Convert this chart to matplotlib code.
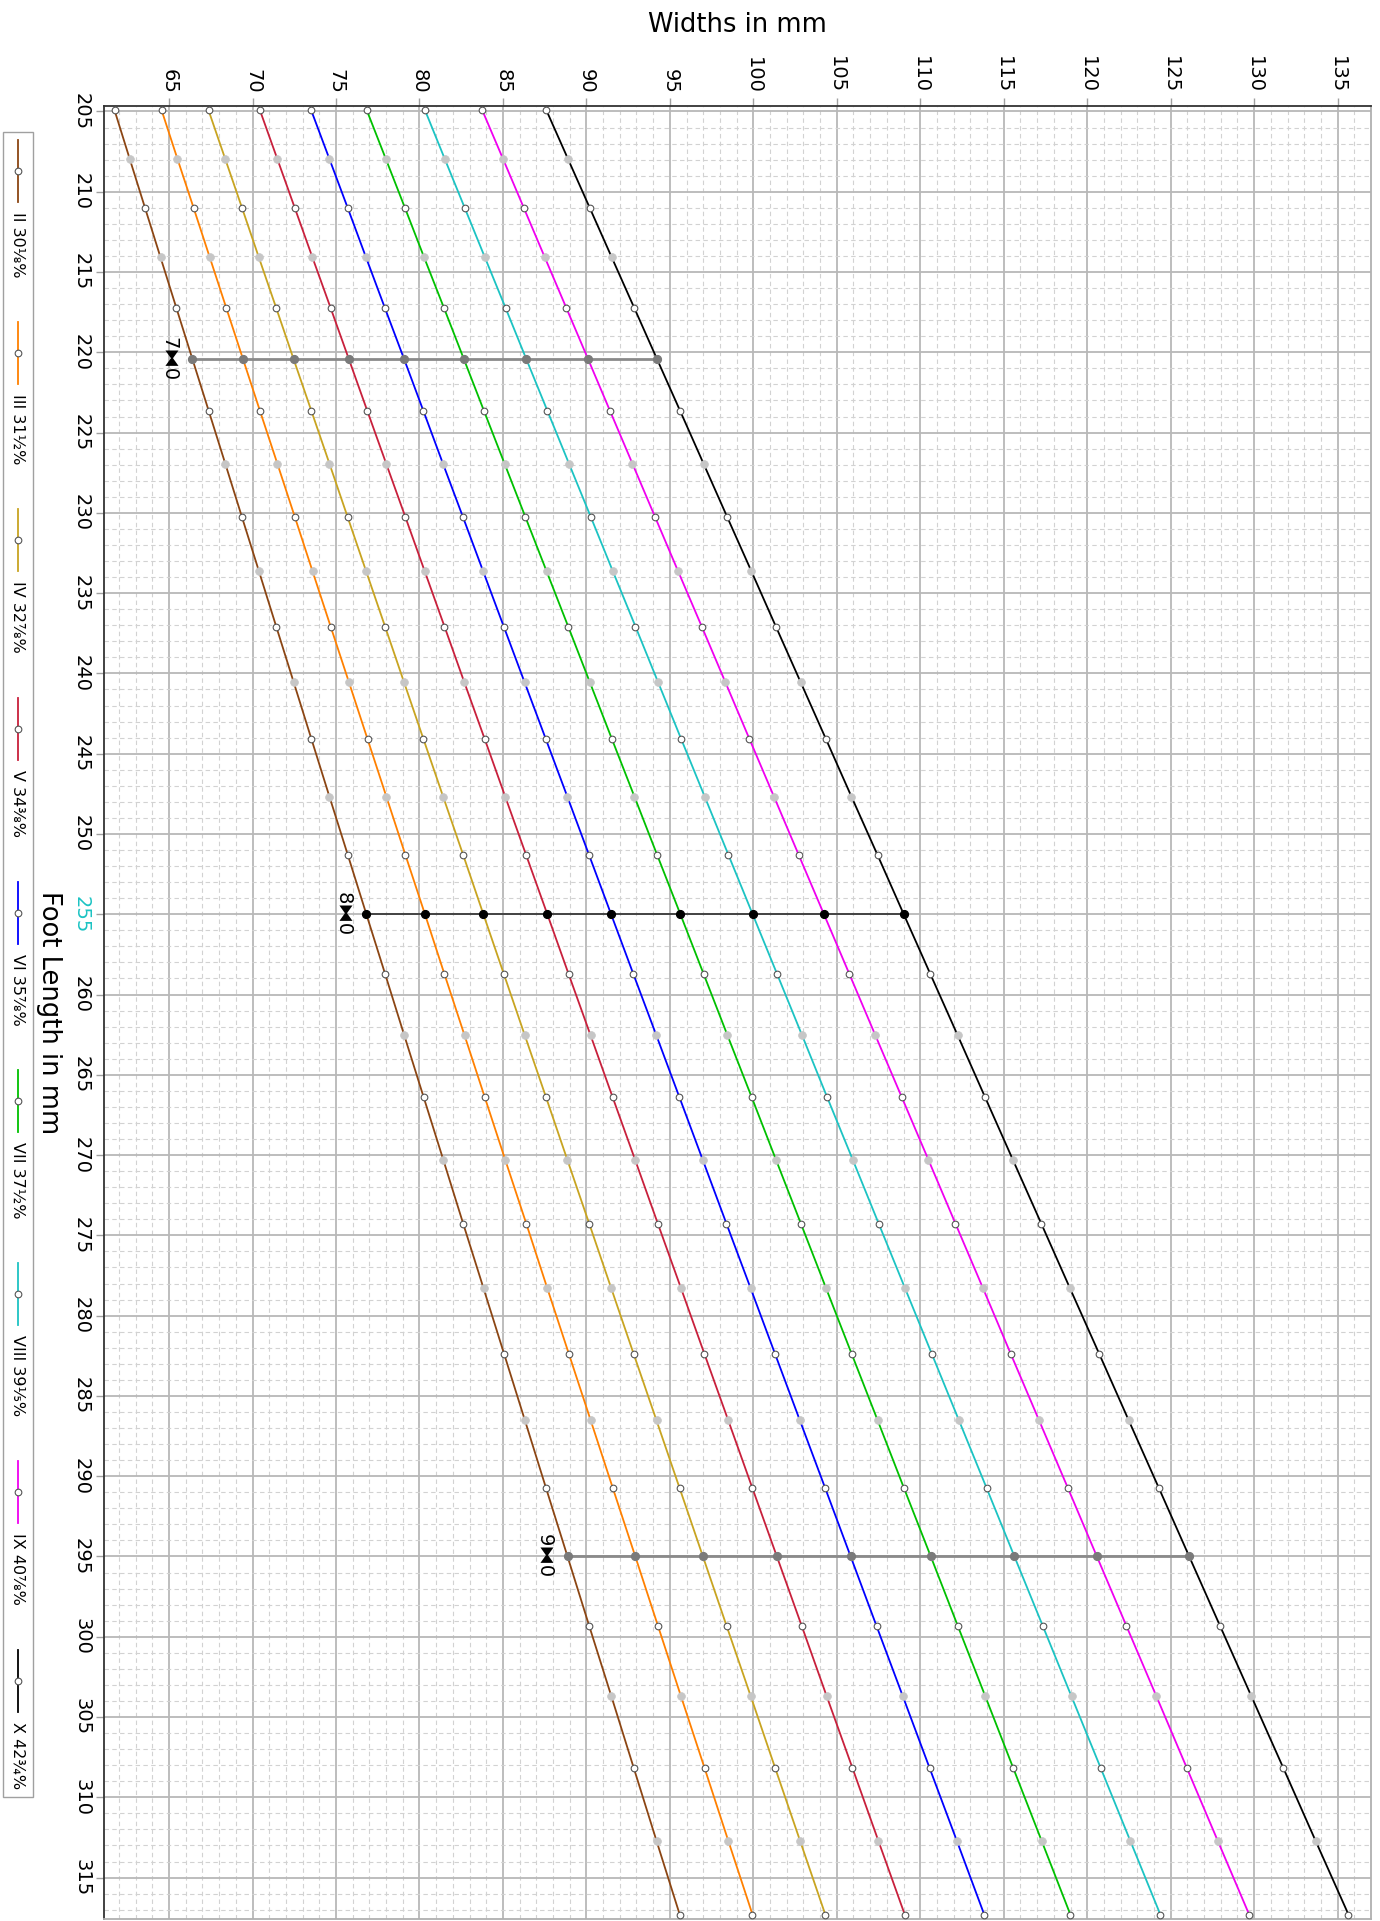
import matplotlib
matplotlib.use("Agg")
import matplotlib.pyplot as plt
from matplotlib.ticker import MultipleLocator
from matplotlib.lines import Line2D
from matplotlib.patches import Rectangle

# ---------------- data ----------------
foot_length = [204.94, 207.94, 211.00, 214.09, 217.24, 220.42, 223.66, 226.94, 230.27, 233.65,
               237.08, 240.56, 244.09, 247.68, 251.31, 255.00, 258.74, 262.54, 266.39, 270.30,
               274.27, 278.30, 282.38, 286.53, 290.73, 295.00, 299.33, 303.72, 308.18, 312.71,
               317.30]

width_II = [61.74, 62.64, 63.56, 64.49, 65.44, 66.40, 67.38, 68.37, 69.37, 70.39,
            71.42, 72.47, 73.53, 74.61, 75.71, 76.82, 77.95, 79.09, 80.25, 81.43,
            82.62, 83.84, 85.07, 86.32, 87.58, 88.87, 90.17, 91.50, 92.84, 94.20, 95.59]
width_III = [64.56, 65.50, 66.47, 67.44, 68.43, 69.43, 70.45, 71.49, 72.54, 73.60,
             74.68, 75.78, 76.89, 78.02, 79.16, 80.33, 81.50, 82.70, 83.91, 85.14,
             86.40, 87.66, 88.95, 90.26, 91.58, 92.93, 94.29, 95.67, 97.08, 98.50, 99.95]
width_IV = [67.37, 68.36, 69.37, 70.38, 71.42, 72.46, 73.53, 74.61, 75.70, 76.81,
            77.94, 79.08, 80.24, 81.42, 82.62, 83.83, 85.06, 86.31, 87.58, 88.86,
            90.17, 91.49, 92.83, 94.20, 95.58, 96.98, 98.40, 99.85, 101.31, 102.80, 104.31]
width_V = [70.45, 71.48, 72.53, 73.59, 74.68, 75.77, 76.88, 78.01, 79.16, 80.32,
           81.50, 82.69, 83.91, 85.14, 86.39, 87.66, 88.94, 90.25, 91.57, 92.92,
           94.28, 95.67, 97.07, 98.50, 99.94, 101.41, 102.90, 104.40, 105.94, 107.49, 109.07]
width_VI = [73.52, 74.60, 75.70, 76.80, 77.93, 79.08, 80.24, 81.41, 82.61, 83.82,
            85.05, 86.30, 87.57, 88.86, 90.16, 91.48, 92.82, 94.19, 95.57, 96.97,
            98.39, 99.84, 101.30, 102.79, 104.30, 105.83, 107.38, 108.96, 110.56, 112.19, 113.83]
width_VII = [76.85, 77.98, 79.13, 80.28, 81.47, 82.66, 83.87, 85.10, 86.35, 87.62,
             88.91, 90.21, 91.53, 92.88, 94.24, 95.63, 97.03, 98.45, 99.90, 101.36,
             102.85, 104.36, 105.89, 107.45, 109.02, 110.63, 112.25, 113.90, 115.57, 117.27, 118.99]
width_VIII = [80.34, 81.51, 82.71, 83.92, 85.16, 86.40, 87.67, 88.96, 90.27, 91.59,
              92.94, 94.30, 95.68, 97.09, 98.51, 99.96, 101.43, 102.92, 104.42, 105.96,
              107.51, 109.09, 110.69, 112.32, 113.97, 115.64, 117.34, 119.06, 120.81, 122.58, 124.38]
width_IX = [83.77, 85.00, 86.25, 87.51, 88.80, 90.10, 91.42, 92.76, 94.12, 95.50,
            96.91, 98.33, 99.77, 101.24, 102.72, 104.23, 105.76, 107.31, 108.89, 110.49,
            112.11, 113.76, 115.42, 117.12, 118.84, 120.58, 122.35, 124.15, 125.97, 127.82, 129.70]
width_X = [87.61, 88.89, 90.20, 91.52, 92.87, 94.23, 95.62, 97.02, 98.44, 99.89,
           101.35, 102.84, 104.35, 105.88, 107.44, 109.01, 110.61, 112.24, 113.88, 115.55,
           117.25, 118.97, 120.72, 122.49, 124.29, 126.11, 127.96, 129.84, 131.75, 133.68, 135.65]

series_names = ["II 30⅛%", "III 31½%", "IV 32⅞%", "V 34⅜%", "VI 35⅞%",
                "VII 37½%", "VIII 39⅕%", "IX 40⅞%", "X 42¾%"]
series_colors = ["#8b4513", "#ff8000", "#c8a421", "#c8203c", "#0000ff",
                 "#00c000", "#1cc3c3", "#f000f0", "#000000"]

size_labels = ["7⧓0", "8⧓0", "9⧓0"]
size_foot_length = [220.42, 255.00, 295.00]

width_ticks = [65, 70, 75, 80, 85, 90, 95, 100, 105, 110, 115, 120, 125, 130, 135]
foot_ticks = [205, 210, 215, 220, 225, 230, 235, 240, 245, 250, 255, 260, 265,
              270, 275, 280, 285, 290, 295, 300, 305, 310, 315]
highlight_tick = 255

widths = [width_II, width_III, width_IV, width_V, width_VI,
          width_VII, width_VIII, width_IX, width_X]

# ---------------- figure ----------------
W, H = 1380, 1921
fig = plt.figure(figsize=(W / 100, H / 100), dpi=100)
fig.patch.set_facecolor("white")

ax_l, ax_r, ax_t, ax_b = 103.6, 1371.0, 106.0, 1919.0
ax = fig.add_axes([ax_l / W, 1 - ax_b / H, (ax_r - ax_l) / W, (ax_b - ax_t) / H])
ax.set_xlim(61.08, 137.0)
ax.set_ylim(317.58, 204.66)

ax.set_axisbelow(True)
ax.xaxis.set_minor_locator(MultipleLocator(1))
ax.yaxis.set_minor_locator(MultipleLocator(1))
ax.grid(which="major", color="#b8b8b8", lw=1.3, ls="-")
ax.grid(which="minor", color="#d2d2d2", lw=0.8, ls=(0, (4, 3)))

# series
for w, c in zip(widths, series_colors):
    ax.plot(w, foot_length, color=c, lw=1.3, zorder=3, solid_capstyle="butt")
    ax.plot(w[1::2], foot_length[1::2], ls="none", marker="o", ms=5.6,
            mfc="#c6c6c6", mec="#c6c6c6", mew=0.5, zorder=4)
    ax.plot(w[0::2], foot_length[0::2], ls="none", marker="o", ms=4.8,
            mfc="white", mec="#555555", mew=0.8, zorder=4)

# size rows
size_styles = [("#8a8a8a", 2.0, "#7a7a7a"), ("#3a3a3a", 1.3, "#000000"), ("#8a8a8a", 2.0, "#7a7a7a")]
for lab, fl, (lc, lw, mc) in zip(size_labels, size_foot_length, size_styles):
    i = foot_length.index(fl)
    xs = [w[i] for w in widths]
    ys = [foot_length[i]] * len(xs)
    ax.plot(xs, ys, color=lc, lw=lw, marker="o", ms=5.6, mfc=mc, mec=mc, zorder=5)
    ax.annotate(lab, (xs[0], ys[0]), xytext=(-13, 0), textcoords="offset pixels",
                rotation=270, ha="right", va="center", fontsize=14,
                family=["DejaVu Sans", "Noto Sans", "Noto Sans CJK SC"], zorder=6)

# ticks
ax.xaxis.tick_top()
ax.set_xticks(width_ticks)
ax.set_xticklabels([str(t) for t in width_ticks], rotation=270)
ax.set_yticks(foot_ticks)
ax.set_yticklabels([str(t) for t in foot_ticks], rotation=270, va="center")
ax.tick_params(which="major", length=6, width=1, color="#a0a0a0", labelsize=14, pad=3)
ax.tick_params(which="minor", length=0)
for lbl in ax.get_yticklabels():
    if lbl.get_text() == str(highlight_tick):
        lbl.set_color("#1cc3c3")

for side, col in (("top", "#333333"), ("left", "#333333"), ("right", "#b0b0b0"), ("bottom", "#b0b0b0")):
    ax.spines[side].set_color(col)
    ax.spines[side].set_linewidth(1.3)

# axis labels
ax.set_xlabel("Widths in mm", fontsize=18.5)
ax.xaxis.set_label_position("top")
ax.xaxis.label.set_va("center")
ax.xaxis.set_label_coords(0.5, 1 + (ax_t - 25) / (ax_b - ax_t))
ax.set_ylabel("Foot Length in mm", fontsize=18.5, rotation=270, va="center",
              ha="center", rotation_mode="anchor")
ax.yaxis.set_label_coords((49 - ax_l) / (ax_r - ax_l), 0.5)

# ---------------- manual (rotated) legend ----------------
renderer = fig.canvas.get_renderer()
leg_x = 17.5
box_l, box_r, box_t, box_b = 2.5, 33.0, 132.0, 1797.0
handle_len, text_pad, pad = 62.0, 10.0, 8.0

fig.add_artist(Rectangle((box_l / W, 1 - box_b / H), (box_r - box_l) / W, (box_b - box_t) / H,
                         transform=fig.transFigure, facecolor="white", edgecolor="#a0a0a0", lw=1.0))
texts = []
for name in series_names:
    t = fig.text(leg_x / W, 0.5, name, rotation=270, ha="center", va="top", fontsize=11.5)
    texts.append(t)
text_lens = [t.get_window_extent(renderer).height for t in texts]
avail = box_b - box_t - 2 * pad
gap = (avail - len(texts) * (handle_len + text_pad) - sum(text_lens)) / (len(texts) - 1)
y = box_t + pad
for t, c, L in zip(texts, series_colors, text_lens):
    fig.add_artist(Line2D([leg_x / W, leg_x / W], [1 - y / H, 1 - (y + handle_len) / H],
                          color=c, lw=1.3, transform=fig.transFigure))
    fig.add_artist(Line2D([leg_x / W], [1 - (y + handle_len / 2) / H], ls="none", marker="o",
                          ms=4.8, mfc="white", mec="#555555", mew=0.8, transform=fig.transFigure))
    t.set_position((leg_x / W, 1 - (y + handle_len + text_pad) / H))
    y += handle_len + text_pad + L + gap

fig.savefig("out.png", dpi=100, facecolor="white")
